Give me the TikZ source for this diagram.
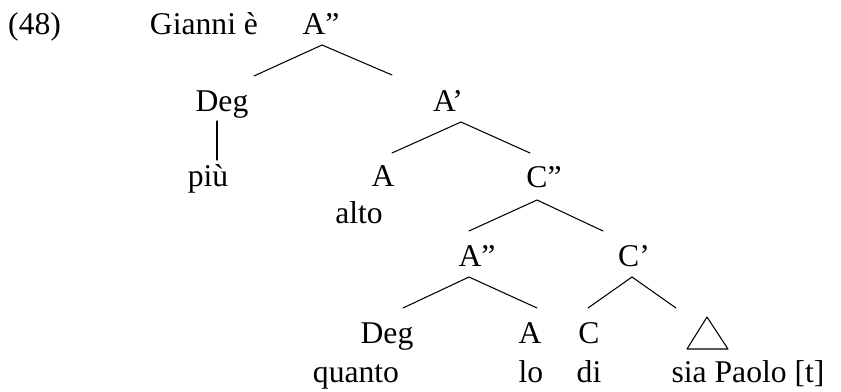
\documentclass[tikz,border=0pt]{standalone}
\usepackage{fontspec}
\setmainfont{Liberation Serif}

\begin{document}
\begin{tikzpicture}[x=0.3mm,y=-0.3mm,
    lbl/.style={anchor=base,inner sep=0pt,font=\fontsize{27}{32}\selectfont},
    branch/.style={line width=0.9pt,line cap=round}]
  \useasboundingbox (0,0) rectangle (841,392);

  % top row
  \node[lbl,anchor=base west] (ex) at (8,35) {(48)};
  \node[lbl] (gianni) at (204,35) {Gianni è};
  \node[lbl] (ATop) at (321,35) {A”};
  \coordinate (ATopApex) at (322,45);
  \coordinate (ATopL) at (254,76);
  \coordinate (ATopR) at (392,75);
  \draw[branch] (ATopL) -- (ATopApex) -- (ATopR);

  % Deg / A'
  \node[lbl] (DegHi) at (222,112) {Deg};
  \node[lbl] (ABar) at (448,112) {A’};
  \coordinate (DegHiFoot) at (217,121);
  \coordinate (piuHead) at (217,160);
  \draw[branch] (DegHiFoot) -- (piuHead);
  \coordinate (ABarApex) at (461,122);
  \coordinate (ABarL) at (392,153);
  \coordinate (ABarR) at (530,153);
  \draw[branch] (ABarL) -- (ABarApex) -- (ABarR);

  % piu / A / C''
  \node[lbl] (piu) at (208,187) {più};
  \node[lbl] (AHead) at (383,187) {A};
  \node[lbl] (alto) at (359,224) {alto};
  \node[lbl] (CTop) at (544,188) {C”};
  \coordinate (CTopApex) at (537,200);
  \coordinate (CTopL) at (469,231);
  \coordinate (CTopR) at (603,231);
  \draw[branch] (CTopL) -- (CTopApex) -- (CTopR);

  % A'' / C'
  \node[lbl] (ALow) at (477,267) {A”};
  \node[lbl] (CBar) at (634,267) {C’};
  \coordinate (ALowApex) at (469,277);
  \coordinate (ALowL) at (403,308);
  \coordinate (ALowR) at (537,308);
  \draw[branch] (ALowL) -- (ALowApex) -- (ALowR);
  \coordinate (CBarApex) at (632,277);
  \coordinate (CBarL) at (588,308);
  \coordinate (CBarR) at (676,308);
  \draw[branch] (CBarL) -- (CBarApex) -- (CBarR);

  % heads
  \node[lbl] (DegLo) at (387,343) {Deg};
  \node[lbl] (AHd) at (530,343) {A};
  \node[lbl] (CHd) at (589,343) {C};
  \draw[branch,line join=round] (707,317) -- (687,349) -- (728,349) -- cycle;

  % words
  \node[lbl] (quanto) at (356,382) {quanto};
  \node[lbl] (lo) at (531,382) {lo};
  \node[lbl] (di) at (589,382) {di};
  \node[lbl] (sia) at (748,382) {sia Paolo [t]};
\end{tikzpicture}
\end{document}
